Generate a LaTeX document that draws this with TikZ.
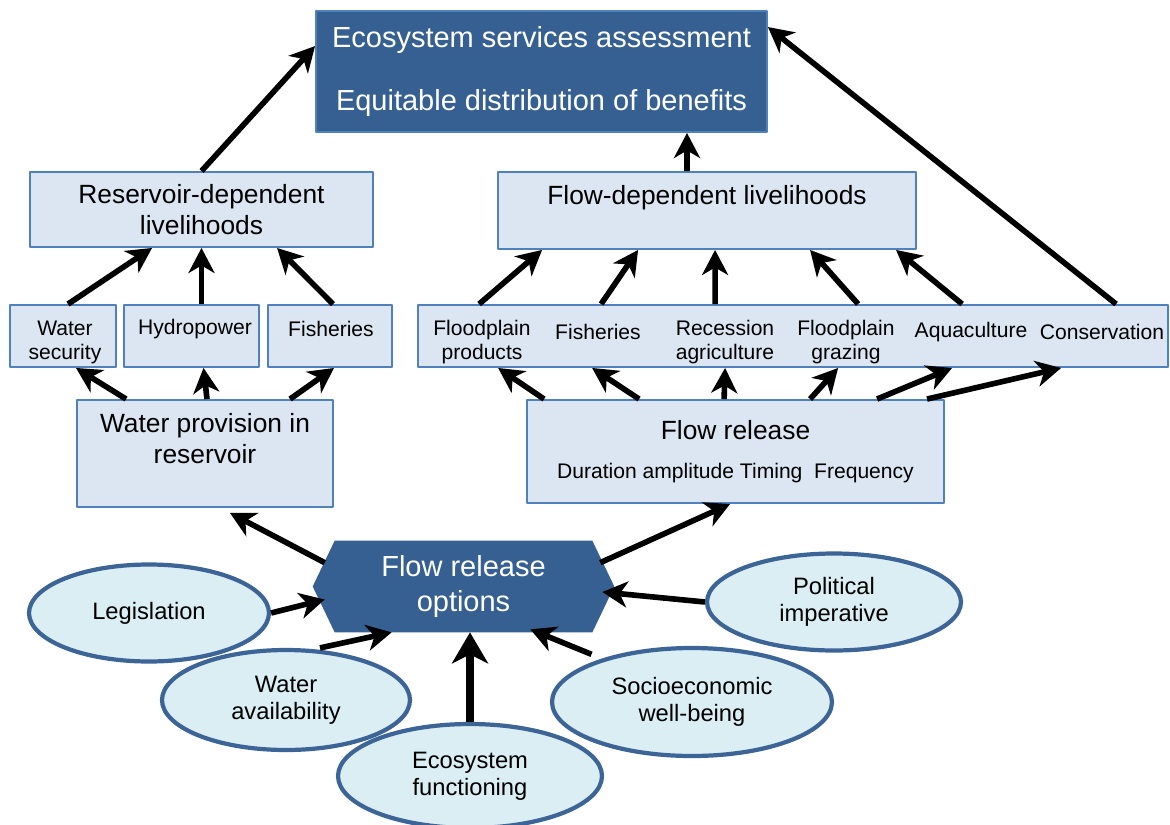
\documentclass[tikz,border=0pt]{standalone}
\usepackage{fontspec}
\setmainfont{Liberation Sans}
\usetikzlibrary{arrows.meta,calc,shapes.geometric,backgrounds}
\definecolor{darkblue}{RGB}{55,96,146}
\definecolor{boxfill}{RGB}{220,230,242}
\definecolor{boxline}{RGB}{79,129,189}
\definecolor{ovalfill}{RGB}{218,238,243}
\definecolor{ovalline}{RGB}{60,100,150}
\newcommand\fsbig{\fontsize{16.5}{19.8}\selectfont}
\newcommand\fsmid{\fontsize{15}{17.6}\selectfont}
\newcommand\fssmall{\fontsize{12}{13.6}\selectfont}
\newcommand\fsoval{\fontsize{13.5}{15.3}\selectfont}
\begin{document}
\begin{tikzpicture}[x=0.02cm,y=-0.02cm,line join=round,
	>={Stealth[length=0.5cm,width=0.52cm,inset=0.15cm]},
	arr/.style={->,line width=3.2pt},
	bigarr/.style={-{Stealth[length=0.62cm,width=0.72cm,inset=0.18cm]},line width=4.2pt},
	lbox/.style={draw=boxline,line width=1.1pt,fill=boxfill,inner sep=0pt,align=center},
	dbox/.style={draw=boxline,line width=1.1pt,fill=darkblue,text=white,inner sep=0pt,align=center},
	lbl/.style={inner sep=0pt,align=center,font=\fssmall},
	oval/.style={ellipse,draw=ovalline,line width=2.4pt,fill=ovalfill,inner sep=0pt,align=center,font=\fsoval}]
	\useasboundingbox (0,0) rectangle (1170,825);
	% boxes
	\node[dbox,minimum width=9.02cm,minimum height=2.42cm,font=\fsbig] (top) at (541.5,71.5) {Ecosystem services assessment\\[16pt]Equitable distribution of benefits};
	\node[lbox,minimum width=6.86cm,minimum height=1.5cm,font=\fsmid] (resdep) at (201.5,209.5) {Reservoir-dependent\\livelihoods};
	\node[lbox,minimum width=8.36cm,minimum height=1.54cm,font=\fsmid] (flowdep) at (707,210.5) {Flow-dependent livelihoods\\\mbox{}};
	\node[lbox,minimum width=2.12cm,minimum height=1.24cm] (wsec) at (63,336) {};
	\node[lbox,minimum width=2.7cm,minimum height=1.24cm] (hydro) at (191.5,336) {};
	\node[lbox,minimum width=2.48cm,minimum height=1.24cm] (fishl) at (330,336) {};
	\node[lbl] (wsect) at (65,342) {Water\\security};
	\node[lbl] (hydrot) at (195,329) {Hydropower};
	\node[lbl] (fishlt) at (331,329) {Fisheries};
	\node[lbox,minimum width=15cm,minimum height=1.24cm] (rbox) at (793,336) {};
	\node[lbl] (fpp) at (482,342) {Floodplain\\products};
	\node[lbl] (fishr) at (598,332) {Fisheries};
	\node[lbl] (rec) at (725,342) {Recession\\agriculture};
	\node[lbl] (graz) at (846,342) {Floodplain\\grazing};
	\node[lbl] (aqua) at (971,332) {Aquaculture};
	\node[lbl] (cons) at (1102,332) {Conservation};
	\node[lbox,minimum width=5.12cm,minimum height=2.14cm,font=\fsmid] (wprov) at (205,453.5) {Water provision in\\reservoir\\\mbox{}};
	\node[lbox,minimum width=8.34cm,minimum height=2.06cm,font=\fsmid] (frel) at (735.5,451.5) {Flow release\\[5pt]{\fssmall Duration amplitude Timing\ \ Frequency}};
	% options
	\node[text=white,align=center,font=\fsbig,minimum width=5.14cm,minimum height=1.82cm,inner sep=0pt] (hex) at (463.5,586.5) {Flow release\\options};
	\begin{scope}[on background layer]
		\fill[darkblue] (hex.north west) -- (hex.north east) -- ($(hex.east)+(22,0)$) -- (hex.south east) -- (hex.south west) -- ($(hex.west)+(-22,0)$) -- cycle;
	\end{scope}
	\node[oval,minimum width=4.8cm,minimum height=1.94cm] (leg) at (149,613) {Legislation};
	\node[oval,minimum width=4.96cm,minimum height=2cm] (wava) at (286,700) {Water\\availability};
	\node[oval,minimum width=5.28cm,minimum height=2.08cm] (eco) at (470,776) {Ecosystem\\functioning};
	\node[oval,minimum width=5.6cm,minimum height=2.16cm] (socio) at (692,702) {Socioeconomic\\well-being};
	\node[oval,minimum width=5.08cm,minimum height=1.94cm] (polit) at (834,602) {Political\\imperative};
	% arrows
	\draw[arr] (resdep.north) -- ($(top.north west)+(0,36)$);
	\draw[arr] ($(flowdep.north)+(-20,0)$) -- ($(top.south)+(145.5,0)$);
	\draw[arr] ($(rbox.north west)+(699,0)$) -- ($(top.north east)+(0,17)$);
	\draw[arr] ($(wsec.north)+(5,0)$) -- ($(resdep.south west)+(123,0)$);
	\draw[arr] ($(hydro.north)+(10,0)$) -- (resdep.south);
	\draw[arr] ($(fishl.north)+(3,0)$) -- ($(resdep.south west)+(248,0)$);
	\draw[arr] ($(rbox.north west)+(62,0)$) -- ($(flowdep.south west)+(45,0)$);
	\draw[arr] ($(rbox.north west)+(184,0)$) -- ($(flowdep.south west)+(141,0)$);
	\draw[arr] ($(rbox.north west)+(298,0)$) -- ($(flowdep.south west)+(218,0)$);
	\draw[arr] ($(rbox.north west)+(441,0)$) -- ($(flowdep.south west)+(313,0)$);
	\draw[arr] ($(rbox.north west)+(545,0)$) -- ($(flowdep.south west)+(399,0)$);
	\draw[arr] ($(wprov.north west)+(50,0)$) -- ($(wsec.south)+(13,0)$);
	\draw[arr] ($(wprov.north)+(2,0)$) -- ($(hydro.south)+(12,0)$);
	\draw[arr] ($(wprov.north west)+(214,0)$) -- ($(fishl.south)+(4,0)$);
	\draw[arr] ($(frel.north west)+(18,0)$) -- ($(rbox.south west)+(81,0)$);
	\draw[arr] ($(frel.north west)+(113,0)$) -- ($(rbox.south west)+(175,0)$);
	\draw[arr] ($(frel.north west)+(198,0)$) -- ($(rbox.south west)+(308,0)$);
	\draw[arr] ($(frel.north west)+(284,0)$) -- ($(rbox.south west)+(421,0)$);
	\draw[arr] ($(frel.north west)+(351,0)$) -- ($(rbox.south west)+(535,0)$);
	\draw[arr] ($(frel.north west)+(401,0)$) -- ($(rbox.south west)+(644,0)$);
	\draw[arr] ($(hex.north west)+(-10,22)$) -- ($(wprov.south)+(25,5)$);
	\draw[arr] ($(hex.north east)+(8,22)$) -- ($(frel.south west)+(204,0)$);
	\draw[arr] (leg.east) -- ($(hex.west)+(-10,13)$);
	\draw[arr] ($(wava.north)+(34,0)$) -- ($(hex.south west)+(57,0)$);
	\draw[bigarr] (eco.north) -- (eco.north |- hex.south);
	\draw[arr] ($(socio.north west)+(0,-8)$) -- ($(hex.south east)+(-62,-3)$);
	\draw[arr] (polit.west) -- ($(hex.east)+(10,5.5)$);
\end{tikzpicture}
\end{document}
